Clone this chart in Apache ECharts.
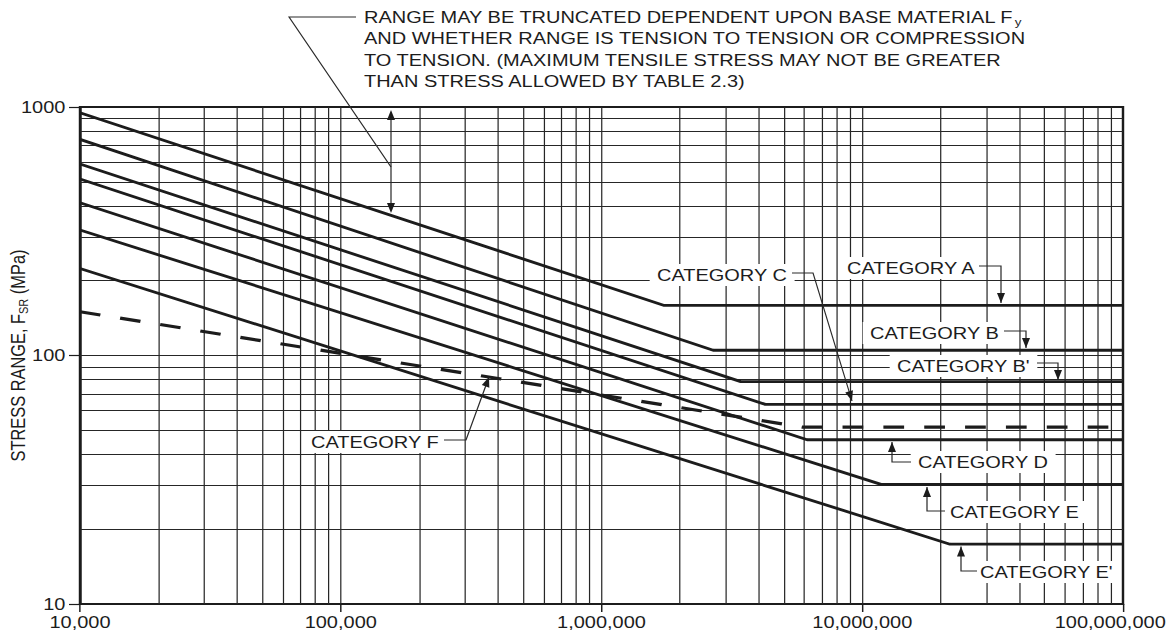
<!DOCTYPE html>
<html>
<head>
<meta charset="utf-8">
<title>Stress range vs cycles</title>
<script src="https://cdn.jsdelivr.net/npm/echarts@6/dist/echarts.min.js"></script>
<style>
  html, body { margin: 0; padding: 0; background: #fff; overflow: hidden; }
  #chart { position: absolute; left: 0; top: 0; width: 962px; height: 634px; transform-origin: 0 0; }
</style>
</head>
<body>
<div id="chart"></div>
<script>
// values: stress range (MPa) against number of cycles
const categories = ['A', 'B', "B'", 'C', 'D', 'E', "E'", 'F'];
const startCycles = 10000;
const endCycles = 100000000;
const startStress = [948, 741, 590, 513, 412, 320, 224, 150];
const kneeCycles = [1.74e6, 2.68e6, 3.42e6, 4.25e6, 6.14e6, 1.18e7, 2.17e7, 5.9e6];
const thresholdStress = [159, 105, 78.5, 63.6, 45.8, 30.3, 17.4, 51.5];

const xTicks = [1e4, 1e5, 1e6, 1e7, 1e8];
const xTickLabels = ['10,000', '100,000', '1,000,000', '10,000,000', '100,000,000'];
const yTicks = [10, 100, 1000];
const yTickLabels = ['10', '100', '1000'];
const gridMultiples = [2, 3, 4, 5, 6, 7, 8, 9];

// the original figure is stretched sideways, so draw narrow and stretch the page
const W = 962, H = 634;
const S = 1173 / W;
const el = document.getElementById('chart');
el.style.transform = 'scaleX(' + S + ')';
const X = v => v / S;
const FONT = '"Liberation Sans", Arial, Helvetica, sans-serif';
const INK = '#1c1c1c';
const FS = 16.4;

function gridValues(ticks) {
  let out = [];
  ticks.slice(0, -1).forEach((t, i) => {
    if (i > 0) out.push(t);
    gridMultiples.forEach(k => out.push(t * k));
  });
  return out;
}
const xGrid = gridValues(xTicks);
const yGrid = gridValues(yTicks);

function tickIndex(ticks, v) {
  return ticks.findIndex(t => Math.abs(Math.log10(t) - Math.log10(v)) < 1e-6);
}

const curveSeries = categories.map((name, i) => ({
  name: 'CATEGORY ' + name,
  type: 'line',
  data: [[startCycles, startStress[i]], [kneeCycles[i], thresholdStress[i]], [endCycles, thresholdStress[i]]],
  symbol: 'none',
  silent: true,
  z: 10,
  lineStyle: name === 'F'
    ? {color: INK, width: 3.2, type: [17, 16.5]}
    : {color: INK, width: 2.8}
}));

const gridSeries = {
  type: 'line',
  data: [],
  silent: true,
  z: 1,
  markLine: {
    silent: true,
    z: 1,
    animation: false,
    symbol: ['none', 'none'],
    label: {show: false},
    lineStyle: {color: '#262626', width: 1, type: 'solid'},
    data: xGrid.map(v => ({xAxis: v})).concat(yGrid.map(v => ({yAxis: v})))
  }
};

// annotation helpers, positions in picture pixels
function leader(points) {
  return {
    type: 'polyline', z: 20, silent: true,
    shape: {points: points.map(p => [X(p[0]), p[1]])},
    style: {stroke: '#2a2a2a', lineWidth: 1, fill: null}
  };
}
function head(tip, from) {
  let dx = tip[0] - from[0], dy = tip[1] - from[1];
  let len = Math.sqrt(dx * dx + dy * dy);
  let ux = dx / len, uy = dy / len;
  let bx = tip[0] - ux * 10, by = tip[1] - uy * 10;
  let w = 4;
  return {
    type: 'polygon', z: 21, silent: true,
    shape: {points: [[tip[0], tip[1]], [bx - uy * w, by + ux * w], [bx + uy * w, by - ux * w]].map(p => [X(p[0]), p[1]])},
    style: {fill: INK, stroke: null}
  };
}
function label(text, left, cy) {
  return {
    type: 'text', z: 15, silent: true,
    style: {
      text: text, x: X(left) - 6, y: cy, align: 'left', verticalAlign: 'middle',
      fontSize: FS, fontFamily: FONT, fill: INK,
      backgroundColor: '#fff', padding: [3, 6]
    }
  };
}

const callouts = [
  {text: 'CATEGORY A', left: 847, cy: 268, path: [[979, 266], [1001, 266], [1001, 303]]},
  {text: 'CATEGORY B', left: 870, cy: 333, path: [[1004, 331], [1026, 331], [1026, 348]]},
  {text: "CATEGORY B'", left: 897, cy: 366, path: [[1037, 363], [1058, 363], [1058, 380]]},
  {text: 'CATEGORY C', left: 657, cy: 275, path: [[792, 273], [813, 273], [852, 401]]},
  {text: 'CATEGORY D', left: 918, cy: 462, path: [[911, 462], [892, 462], [892, 442]]},
  {text: 'CATEGORY E', left: 950, cy: 512, path: [[945, 511], [927, 511], [927, 487]]},
  {text: "CATEGORY E'", left: 980, cy: 572, path: [[977, 571], [961, 571], [961, 546.5]]},
  {text: 'CATEGORY F', left: 311, cy: 442, path: [[444, 440], [466, 440], [489, 377]]}
];

let graphics = [];
callouts.forEach(c => {
  graphics.push(label(c.text, c.left, c.cy));
  graphics.push(leader(c.path));
  let n = c.path.length;
  graphics.push(head(c.path[n - 1], c.path[n - 2]));
});

// note at the top with its double arrow
graphics.push({
  type: 'text', z: 15, silent: true,
  style: {
    text: 'RANGE MAY BE TRUNCATED DEPENDENT UPON BASE MATERIAL F{sub|y}\n' +
      'AND WHETHER RANGE IS TENSION TO TENSION OR COMPRESSION\n' +
      'TO TENSION. (MAXIMUM TENSILE STRESS MAY NOT BE GREATER\n' +
      'THAN STRESS ALLOWED BY TABLE 2.3)',
    x: X(364), y: 6, align: 'left', verticalAlign: 'top',
    fontSize: FS, fontFamily: FONT, fill: INK, lineHeight: 21.6,
    rich: {sub: {fontSize: 11, fontFamily: FONT, fill: INK, lineHeight: 14, verticalAlign: 'bottom'}}
  }
});
graphics.push(leader([[356, 17], [289, 17], [391, 167]]));
graphics.push(leader([[391, 115], [391, 208]]));
graphics.push(head([391, 110], [391, 200]));
graphics.push(head([391, 213], [391, 120]));

const chart = echarts.init(el, null, {renderer: 'svg', width: W, height: H});
chart.setOption({
  animation: false,
  backgroundColor: '#fff',
  grid: {
    left: X(80), right: W - X(1123), top: 107, bottom: H - 604,
    show: true, borderColor: INK, borderWidth: 2,
    containLabel: false, outerBoundsMode: 'none'
  },
  xAxis: {
    type: 'log', logBase: 10, min: 1e4, max: 1e8,
    axisLine: {show: true, onZero: false, lineStyle: {color: INK, width: 2}},
    axisTick: {show: true, length: 8, lineStyle: {color: INK, width: 1.2}},
    splitLine: {show: false},
    axisLabel: {
      color: INK, fontSize: FS, fontFamily: FONT, margin: 10,
      showMinLabel: true, showMaxLabel: true, hideOverlap: false,
      formatter: function (v) {
        let i = tickIndex(xTicks, v);
        if (i < 0) return '';
        return i === xTicks.length - 1 ? '{last|' + xTickLabels[i] + '}' : xTickLabels[i];
      },
      rich: {last: {color: INK, fontSize: FS, fontFamily: FONT, padding: [0, 21, 0, 0]}}
    }
  },
  yAxis: {
    type: 'log', logBase: 10, min: 10, max: 1000,
    name: 'STRESS RANGE, F{sub|SR} (MPa)',
    nameLocation: 'middle', nameRotate: 90, nameGap: 41, nameMoveOverlap: false,
    nameTextStyle: {
      color: INK, fontSize: FS, fontFamily: FONT, lineHeight: 20,
      rich: {sub: {color: INK, fontSize: 11, fontFamily: FONT, lineHeight: 14, verticalAlign: 'bottom'}}
    },
    axisLine: {show: true, onZero: false, lineStyle: {color: INK, width: 2}},
    axisTick: {show: true, length: 9, lineStyle: {color: INK, width: 1.2}},
    splitLine: {show: false},
    axisLabel: {
      color: INK, fontSize: FS, fontFamily: FONT, margin: 12,
      showMinLabel: true, showMaxLabel: true,
      formatter: function (v) {
        let i = tickIndex(yTicks, v);
        return i < 0 ? '' : yTickLabels[i];
      }
    }
  },
  series: [gridSeries].concat(curveSeries),
  graphic: graphics
});
</script>
</body>
</html>
